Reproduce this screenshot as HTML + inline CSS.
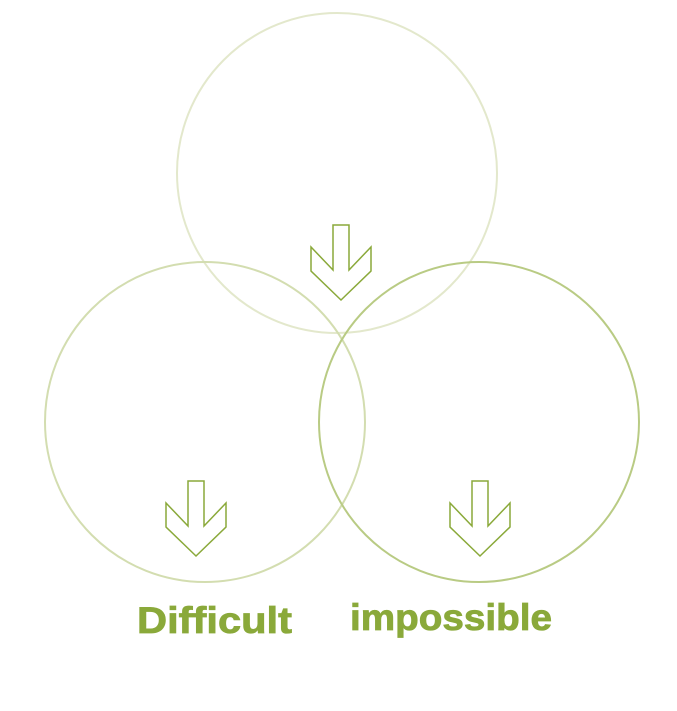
<!DOCTYPE html>
<html><head><meta charset="utf-8"><style>
html,body{margin:0;padding:0;background:#fff;width:677px;height:711px;overflow:hidden}
svg{display:block}
</style></head><body>
<svg width="677" height="711" viewBox="0 0 677 711" xmlns="http://www.w3.org/2000/svg">
<circle cx="337" cy="173" r="160" fill="none" stroke="#e3e8cc" stroke-width="2"/>
<circle cx="205" cy="422" r="160" fill="none" stroke="#d3ddb0" stroke-width="2"/>
<circle cx="479" cy="422" r="160" fill="none" stroke="#b9cb84" stroke-width="2"/>
<g fill="none" stroke="#8aa93a" stroke-width="1.5" stroke-linejoin="miter">
<polygon points="333,225 349,225 349,270 371,247 371,271 341,300 311,271 311,247 333,270"/>
<polygon points="188,481 204,481 204,526 226,503 226,527 196,556 166,527 166,503 188,526"/>
<polygon points="472,481 488,481 488,526 510,503 510,527 480,556 450,527 450,503 472,526"/>
</g>
<g font-family="Liberation Sans, sans-serif" font-weight="bold" font-size="37" fill="#8aa93a" stroke="#8aa93a" stroke-width="0.8">
<text x="137" y="633" textLength="155" lengthAdjust="spacingAndGlyphs">Difficult</text>
<text x="350" y="630" textLength="202" lengthAdjust="spacingAndGlyphs">impossible</text>
</g>
</svg>
</body></html>
